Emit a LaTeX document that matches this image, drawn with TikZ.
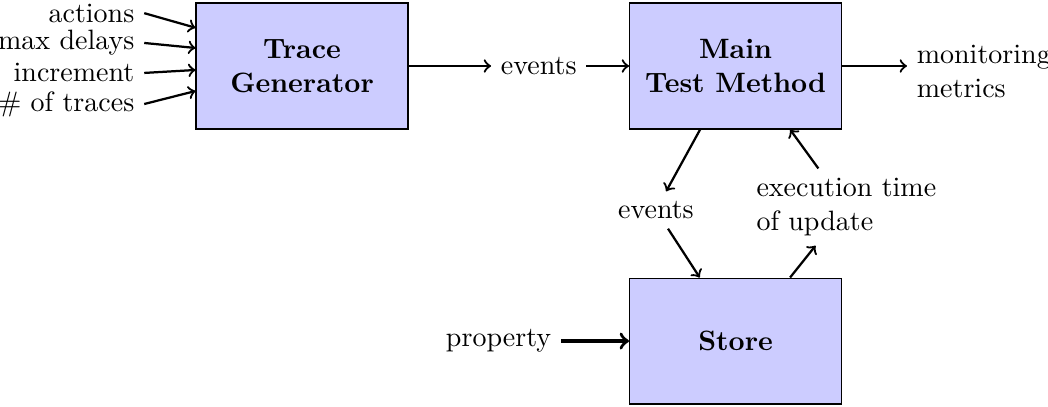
\documentclass[tikz,border=0pt]{standalone}
\begin{document}
\begin{tikzpicture}[x=1cm,y=1cm]
	\tikzset{block/.style={draw,thin,fill=blue!20,minimum width=2.66cm,minimum height=1.58cm,align=center,font=\bfseries},
		lbl/.style={align=left},
		arr/.style={->,thick}}
	\useasboundingbox (0,0) rectangle (13.15,5.095);
	\node[block] (gen) at (3.79,4.267) {Trace\\Generator};
	\node[block] (main) at (9.23,4.267) {Main\\Test Method};
	\node[block] (store) at (9.23,0.816) {Store};
	\foreach \i/\y/\lab/\dy in {1/4.93/actions/0.48, 2/4.556/max delays/0.226, 3/4.18/increment/-0.05, 4/3.79/\# of traces/-0.314}{
		\node[anchor=east] (in\i) at (1.81,\y) {\lab};
		\draw[arr] (in\i.east) -- ([yshift=\dy cm]gen.west);
	}
	\node (ev1) at (6.76,4.267) {events};
	\draw[arr] (gen) -- (ev1);
	\draw[arr] (ev1) -- (main);
	\node[lbl,anchor=west] (mon) at (11.38,4.2) {monitoring\\metrics};
	\draw[arr] (main.east) -- (main.east -| mon.west);
	\node (ev2) at (8.23,2.46) {events};
	\node[lbl] (exec) at (10.62,2.497) {execution time\\of update};
	\draw[arr] ([xshift=-0.445cm]main.south) -- (ev2);
	\draw[arr] (ev2) -- ([xshift=-0.45cm]store.north);
	\draw[arr] ([xshift=0.684cm]store.north) -- (exec);
	\draw[arr] (exec) -- ([xshift=0.684cm]main.south);
	\node (prop) at (6.256,0.816) {property};
	\draw[arr,very thick] (prop) -- (store);
\end{tikzpicture}
\end{document}
